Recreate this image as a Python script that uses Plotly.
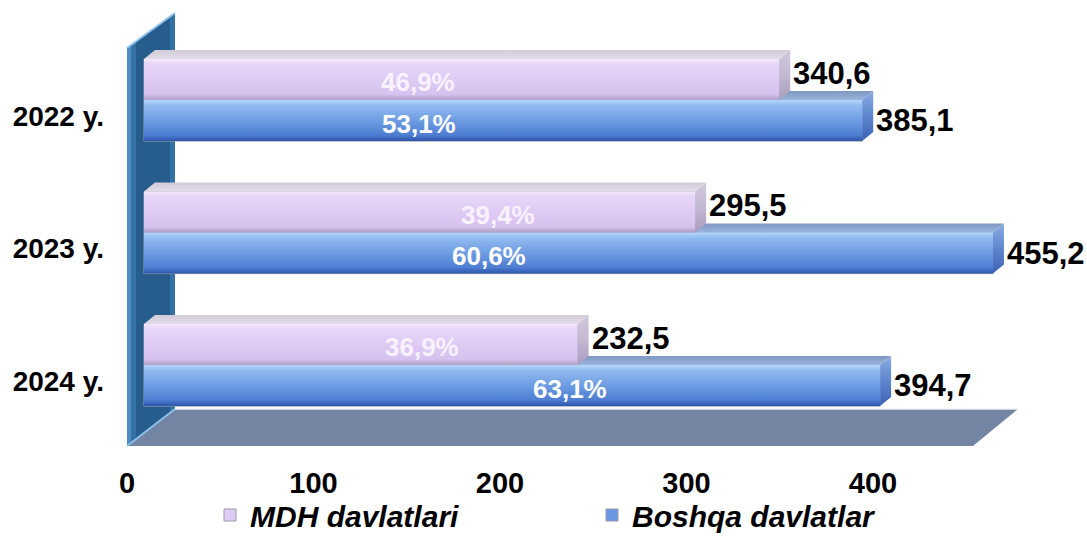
import plotly.graph_objects as go

# ---- data -------------------------------------------------------------
years = ["2022 y.", "2023 y.", "2024 y."]
mdh_values = [340.6, 295.5, 232.5]          # MDH davlatlari
other_values = [385.1, 455.2, 394.7]        # Boshqa davlatlar
mdh_share = ["46,9%", "39,4%", "36,9%"]
other_share = ["53,1%", "60,6%", "63,1%"]
x_ticks = [0, 100, 200, 300, 400]
series_names = ["MDH davlatlari", "Boshqa davlatlar"]

# ---- layout constants --------------------------------------------------
W, H = 1087, 536
M_L, M_R, M_T, M_B = 127, 67, 13, 90
X_SCALE = 1.865                      # pixels per unit on the value axis
X_ZERO = 144                         # page pixel of value 0
PLOT_W = W - M_L - M_R
PLOT_H = H - M_T - M_B
X_RANGE = [(M_L - X_ZERO) / X_SCALE, (W - M_R - X_ZERO) / X_SCALE]
Y_RANGE = [2.611, -0.6566]          # reversed: first year on top
BAR_H = 0.31                         # thickness of one bar (axis units)
DEPTH_PX = 11                        # 3-D depth of a bar, horizontal pixels
DEPTH_X = DEPTH_PX / X_SCALE
DEPTH_Y = 0.068                      # 3-D depth of a bar along y (axis units)
FONT = "Liberation Sans, Arial, sans-serif"

# horizontal anchor (axis units) of the share labels inside each bar
mdh_share_x = [147.0, 190.0, 149.0]
other_share_x = [147.5, 185.0, 228.5]


def px(x):
    """page pixel x -> paper coordinate"""
    return (x - M_L) / PLOT_W


def py(y):
    """page pixel y -> paper coordinate"""
    return (H - M_B - y) / PLOT_H


pink = dict(
    solid="#DFCAF4",
    front=[[0.0, "#F4E8FC"], [0.12, "#E8D6F8"], [0.5, "#DFCAF4"],
           [0.86, "#D6C2EE"], [1.0, "#AE9EC4"]],
    top=[[0.0, "#D2CCD8"], [1.0, "#E2DCE8"]],
    cap=[[0.0, "#D0C8DC"], [0.5, "#C2B8D2"], [1.0, "#A89CBC"]],
    text="#F8F2FF",
)
blue = dict(
    solid="#6A98E0",
    front=[[0.0, "#B4D6FA"], [0.14, "#90BAF0"], [0.5, "#6E9CE2"],
           [0.85, "#4E7ED2"], [1.0, "#2D55AC"]],
    top=[[0.0, "#7F98C4"], [1.0, "#9BB4DA"]],
    cap=[[0.0, "#8AACE4"], [0.5, "#5E86CE"], [1.0, "#3C62B4"]],
    text="#FFFFFF",
)

fig = go.Figure()

# the data bars themselves (carry the legend)
for name, vals, sty, sign in [(series_names[0], mdh_values, pink, -1),
                              (series_names[1], other_values, blue, 1)]:
    fig.add_trace(go.Bar(
        x=vals,
        y=[i + sign * BAR_H / 2 for i in range(len(years))],
        orientation="h",
        width=BAR_H,
        name=name,
        marker=dict(color=sty["solid"],
                    line=dict(color="#9A9AAA", width=1)),
        hoverinfo="x+name",
    ))


def poly(xs, ys, grad, y0, y1):
    return go.Scatter(
        x=xs + [xs[0]], y=ys + [ys[0]],
        mode="lines", line=dict(width=0),
        fill="toself",
        fillgradient=dict(type="vertical", colorscale=grad, start=y0, stop=y1),
        showlegend=False, hoverinfo="skip",
    )


# 3-D faces over each bar: lower series first so the upper one overlaps it
for vals, sty, sign in [(other_values, blue, 1), (mdh_values, pink, -1)]:
    for i, v in enumerate(vals):
        yt = i if sign > 0 else i - BAR_H
        yb = yt + BAR_H
        # top face
        fig.add_trace(poly([0, v, v + DEPTH_X, DEPTH_X],
                           [yt, yt, yt - DEPTH_Y, yt - DEPTH_Y],
                           sty["top"], yt - DEPTH_Y, yt))
        # end face
        fig.add_trace(poly([v, v + DEPTH_X, v + DEPTH_X, v],
                           [yt, yt - DEPTH_Y, yb - DEPTH_Y, yb],
                           sty["cap"], yt - DEPTH_Y, yb))
        # front face
        fig.add_trace(poly([0, v, v, 0], [yt, yt, yb, yb],
                           sty["front"], yt, yb))

annotations = []
# value labels at the bar ends
for vals, sign, dy in [(mdh_values, -1, 6), (other_values, 1, 0)]:
    for i, v in enumerate(vals):
        annotations.append(dict(
            x=v, y=i + sign * BAR_H / 2, xref="x", yref="y",
            text=f"{v:.1f}".replace(".", ","),
            showarrow=False, xanchor="left", yanchor="middle",
            xshift=DEPTH_PX + 1, yshift=dy,
            font=dict(family=FONT, size=31, color="#000000", weight="bold"),
        ))
# share labels inside the bars
for shares, pos, sty, sign in [(mdh_share, mdh_share_x, pink, -1),
                               (other_share, other_share_x, blue, 1)]:
    for i, s in enumerate(shares):
        annotations.append(dict(
            x=pos[i], y=i + sign * BAR_H / 2, xref="x", yref="y",
            text=s, showarrow=False, xanchor="center", yanchor="middle",
            yshift=-3,
            font=dict(family=FONT, size=26, color=sty["text"], weight="bold"),
        ))

# chart walls: side wall and floor of the 3-D box
shapes = []
wall = [(127, 48), (175, 13), (175, 409), (127, 446)]
floor = [(127, 446), (175, 409), (1018, 409), (973, 446)]


def path(points):
    return "M " + " L ".join(f"{px(x):.5f},{py(y):.5f}" for x, y in points) + " Z"


shapes.append(dict(type="path", xref="paper", yref="paper", layer="below",
                   path=path(wall), fillcolor="#3471A5", line=dict(width=0)))
shapes.append(dict(type="path", xref="paper", yref="paper", layer="below",
                   path=path([(136, 41.4), (170, 16.6), (170, 413), (136, 439)]),
                   fillcolor="#1E4C78", opacity=0.55, line=dict(width=0)))
shapes.append(dict(type="path", xref="paper", yref="paper", layer="below",
                   path=path([(127, 48), (131, 45), (131, 443), (127, 446)]),
                   fillcolor="#4F8CC2", line=dict(width=0)))
shapes.append(dict(type="path", xref="paper", yref="paper", layer="below",
                   path=path(floor), fillcolor="#7385A2", line=dict(width=0)))
shapes.append(dict(type="line", xref="paper", yref="paper", layer="below",
                   x0=px(127), y0=py(48), x1=px(175), y1=py(13),
                   line=dict(color="#8CC0EA", width=2)))
shapes.append(dict(type="line", xref="paper", yref="paper", layer="below",
                   x0=px(127), y0=py(446), x1=px(175), y1=py(409),
                   line=dict(color="#8CC0EA", width=2)))
shapes.append(dict(type="line", xref="paper", yref="paper", layer="below",
                   x0=px(175), y0=py(409), x1=px(1018), y1=py(409),
                   line=dict(color="#EEF2F8", width=1.5)))

fig.update_layout(
    width=W, height=H,
    margin=dict(l=M_L, r=M_R, t=M_T, b=M_B, pad=0, autoexpand=False),
    paper_bgcolor="#FFFFFF", plot_bgcolor="rgba(0,0,0,0)",
    barmode="overlay",
    showlegend=True,
    legend=dict(
        orientation="h", x=px(210), xanchor="left", y=py(515), yanchor="middle",
        entrywidth=337, entrywidthmode="pixels",
        font=dict(family=FONT, size=30, color="#000000",
                  weight="bold", style="italic"),
        bgcolor="rgba(0,0,0,0)", borderwidth=0,
    ),
    xaxis=dict(
        range=X_RANGE, tickvals=x_ticks, ticktext=[str(t) for t in x_ticks],
        showgrid=False, zeroline=False, showline=False, ticks="",
        ticklabelshift=-17, ticklabelstandoff=17,
        tickfont=dict(family=FONT, size=29, color="#000000", weight="bold"),
    ),
    yaxis=dict(
        range=Y_RANGE, tickvals=[i + 0.12 for i in range(len(years))],
        ticktext=years,
        showgrid=False, zeroline=False, showline=False, ticks="",
        ticklabelstandoff=22,
        tickfont=dict(family=FONT, size=28, color="#000000", weight="bold"),
    ),
    annotations=annotations,
    shapes=shapes,
)

fig.write_html("out.html")
